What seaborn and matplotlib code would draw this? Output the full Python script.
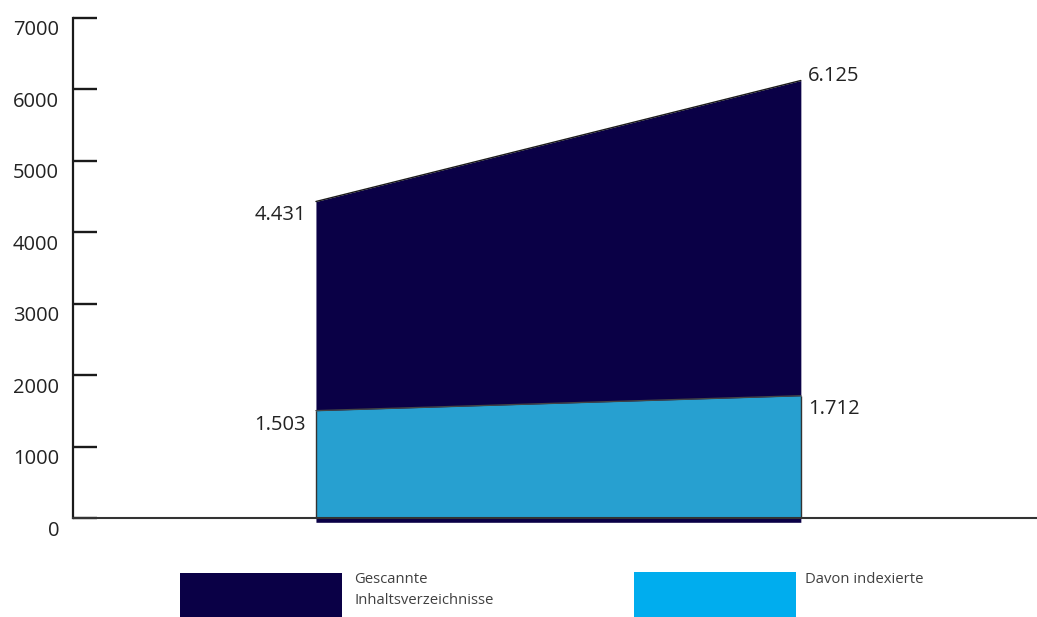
import matplotlib
matplotlib.use('Agg')
import matplotlib.pyplot as plt
import matplotlib.transforms as mtransforms
from matplotlib.patches import Rectangle
import seaborn as sns

# data
points = [0, 1]
gescannt = [4431, 6125]
indexiert = [1503, 1712]
gescannt_labels = ['4.431', '6.125']
indexiert_labels = ['1.503', '1.712']
y_ticks = [0, 1000, 2000, 3000, 4000, 5000, 6000, 7000]
legend_labels = ['Gescannte\nInhaltsverzeichnisse', 'Davon indexierte']

dark = '#0a0046'
light = '#27a0d0'
legend_light = '#00adee'

sns.set_style('white')
plt.rcParams['font.family'] = ['Open Sans', 'DejaVu Sans']

W, H = 1037, 617
fig = plt.figure(figsize=(W / 100, H / 100), dpi=100)
ax = fig.add_axes([73 / W, (H - 522.3) / H, 964 / W, 504.3 / H])

# areas
ax.fill_between(points, -60, gescannt, color=dark, lw=0)
ax.fill_between(points, 0, indexiert, color=light, lw=0)
sns.lineplot(x=points, y=gescannt, color='#1a1a1a', lw=1, ax=ax, legend=False)
sns.lineplot(x=points, y=indexiert, color='#444444', lw=1, ax=ax, legend=False)
ax.vlines(points, 0, indexiert, color='#333333', lw=1)

ax.set_xlim(-0.501, 1.487)
ax.set_ylim(-60, 7000)

# axes styling
for s in ['top', 'right']:
    ax.spines[s].set_visible(False)
ax.spines['left'].set_bounds(0, 7000)
ax.spines['left'].set_linewidth(1.6)
ax.spines['left'].set_color('#1a1a1a')
ax.spines['bottom'].set_position(('data', 0))
ax.spines['bottom'].set_linewidth(1.5)
ax.spines['bottom'].set_color('#333333')
ax.set_xticks([])
ax.tick_params(axis='y', left=True, direction='in', length=17, width=1.7, color='#1a1a1a',
               pad=10, labelsize=14.5, labelcolor='#222222')
ax.set_yticks(y_ticks)
ax.set_yticklabels([str(t) for t in y_ticks])
shift = mtransforms.ScaledTranslation(0, -0.10, fig.dpi_scale_trans)
for lbl in ax.get_yticklabels():
    lbl.set_transform(lbl.get_transform() + shift)

# value labels
left_off = (-7, -10)
right_off = [(5, 3), (5, -9.5)]
for lab, x, y in zip(gescannt_labels, points, gescannt):
    off = left_off if x == points[0] else right_off[0]
    ax.annotate(lab, (x, y), xytext=off, textcoords='offset points',
                ha='right' if x == points[0] else 'left', va='center',
                fontsize=14.5, color='#222222')
for lab, x, y in zip(indexiert_labels, points, indexiert):
    off = left_off if x == points[0] else right_off[1]
    ax.annotate(lab, (x, y), xytext=off, textcoords='offset points',
                ha='right' if x == points[0] else 'left', va='center',
                fontsize=14.5, color='#222222')

# legend
fig.patches.append(Rectangle((180 / W, 0), 162 / W, 44 / H, transform=fig.transFigure,
                             color=dark, lw=0))
fig.patches.append(Rectangle((634 / W, 0), 162 / W, 45 / H, transform=fig.transFigure,
                             color=legend_light, lw=0))
fig.text(354 / W, 1 - 572 / H, legend_labels[0], va='top', ha='left', fontsize=10.7,
         linespacing=1.5, color='#404040')
fig.text(805 / W, 1 - 572 / H, legend_labels[1], va='top', ha='left', fontsize=10.7,
         color='#404040')

fig.savefig('out.png', dpi=100)
